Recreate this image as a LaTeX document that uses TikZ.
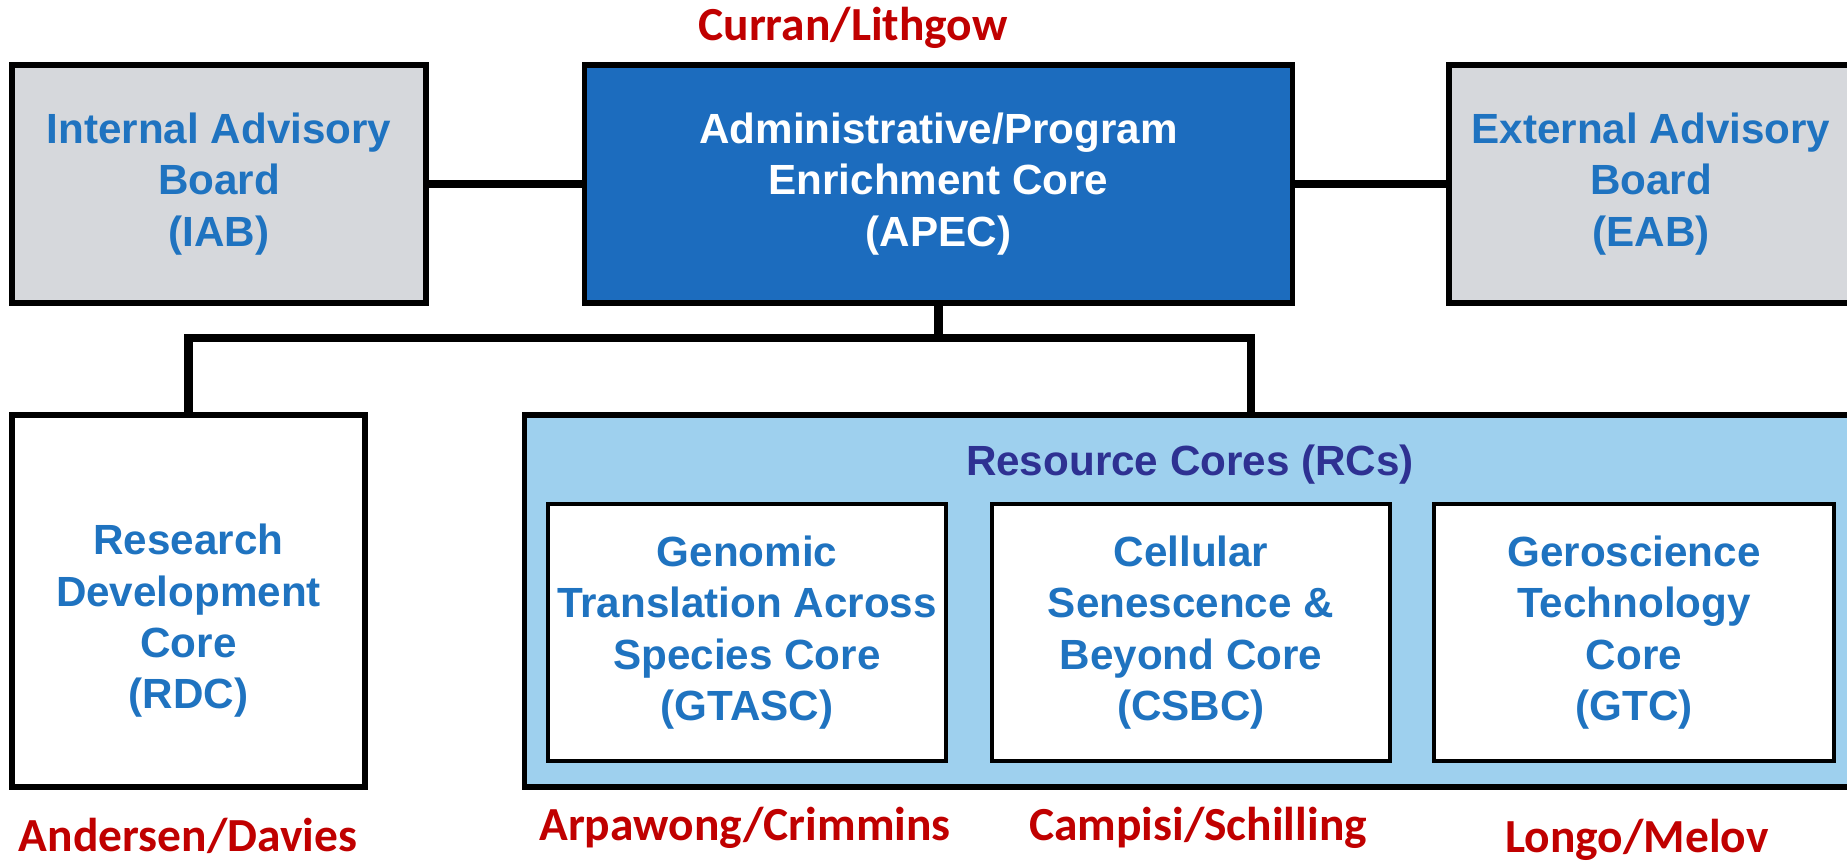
\documentclass[tikz,border=0pt]{standalone}
\usepackage{fontspec}
\setmainfont{Liberation Sans}
\newfontfamily\namefont{Carlito}
\definecolor{boxblue}{RGB}{31,115,192}
\definecolor{apecblue}{RGB}{28,108,190}
\definecolor{boardgray}{RGB}{214,216,220}
\definecolor{rcblue}{RGB}{158,208,238}
\definecolor{rcnavy}{RGB}{46,49,146}
\definecolor{namered}{RGB}{192,0,0}
\tikzset{
  box/.style={draw=black, line width=1.5pt, inner sep=0pt, align=center,
    text=boxblue, font=\bfseries\fontsize{12}{14.6}\selectfont},
  board/.style={box, fill=boardgray, minimum width=4.14cm, minimum height=2.38cm},
  core/.style={box, fill=white, line width=1.1pt, minimum width=3.98cm, minimum height=2.57cm},
  lead/.style={text=namered, font=\namefont\bfseries\fontsize{13.5}{16}\selectfont},
  conn/.style={draw=black, line width=2.3pt}
}

\begin{document}
\begin{tikzpicture}[x=0.01cm, y=-0.01cm]
    \useasboundingbox (0, 0) rectangle (1847, 862);
    \clip (0, 0) rectangle (1847, 862);
    % top row
    \node[board] (IAB) at (219, 184) {Internal Advisory\\Board\\(IAB)};
    \node[box, fill=apecblue, text=white, minimum width=7.07cm, minimum height=2.38cm]
      (APEC) at (938.5, 184) {Administrative/Program\\Enrichment Core\\(APEC)};
    \node[board, minimum width=4.04cm] (EAB) at (1651, 184) {External Advisory\\Board\\(EAB)};
    \draw[conn] (IAB) -- (APEC);
    \draw[conn] (APEC) -- (EAB);
    % lower row
    \node[box, fill=white, minimum width=3.53cm, minimum height=3.72cm] (RDC) at (188.5, 601) {};
    \node[box, draw=none] (rdctext) at (188.5, 621) {Research\\Development\\Core\\(RDC)};
    \node[box, fill=rcblue, minimum width=14.52cm, minimum height=3.72cm] (RCs) at (1251, 601) {};
    \node[text=rcnavy, font=\bfseries\fontsize{12}{14.6}\selectfont] (rctitle) at (1190, 465) {Resource Cores (RCs)};
    \node[core] (GTASC) at (747, 632.5) {Genomic\\Translation Across\\Species Core\\(GTASC)};
    \node[core] (CSBC) at (1191, 632.5) {Cellular\\Senescence \&\\Beyond Core\\(CSBC)};
    \node[core, minimum width=4.0cm] (GTC) at (1634, 632.5) {Geroscience\\Technology\\Core\\(GTC)};
    \coordinate (split) at (938.5, 338);
    \draw[conn] (APEC) -- (split);
    \draw[conn] (RDC) |- (split) -| (RCs);
    % leads
    \node[lead] (curran) at (853, 28) {Curran/Lithgow};
    \node[lead] (andersen) at (188, 836) {Andersen/Davies};
    \node[lead] (arpawong) at (745, 828) {Arpawong/Crimmins};
    \node[lead] (campisi) at (1198, 828) {Campisi/Schilling};
    \node[lead] (longo) at (1637, 840) {Longo/Melov};
  \end{tikzpicture}
\end{document}
